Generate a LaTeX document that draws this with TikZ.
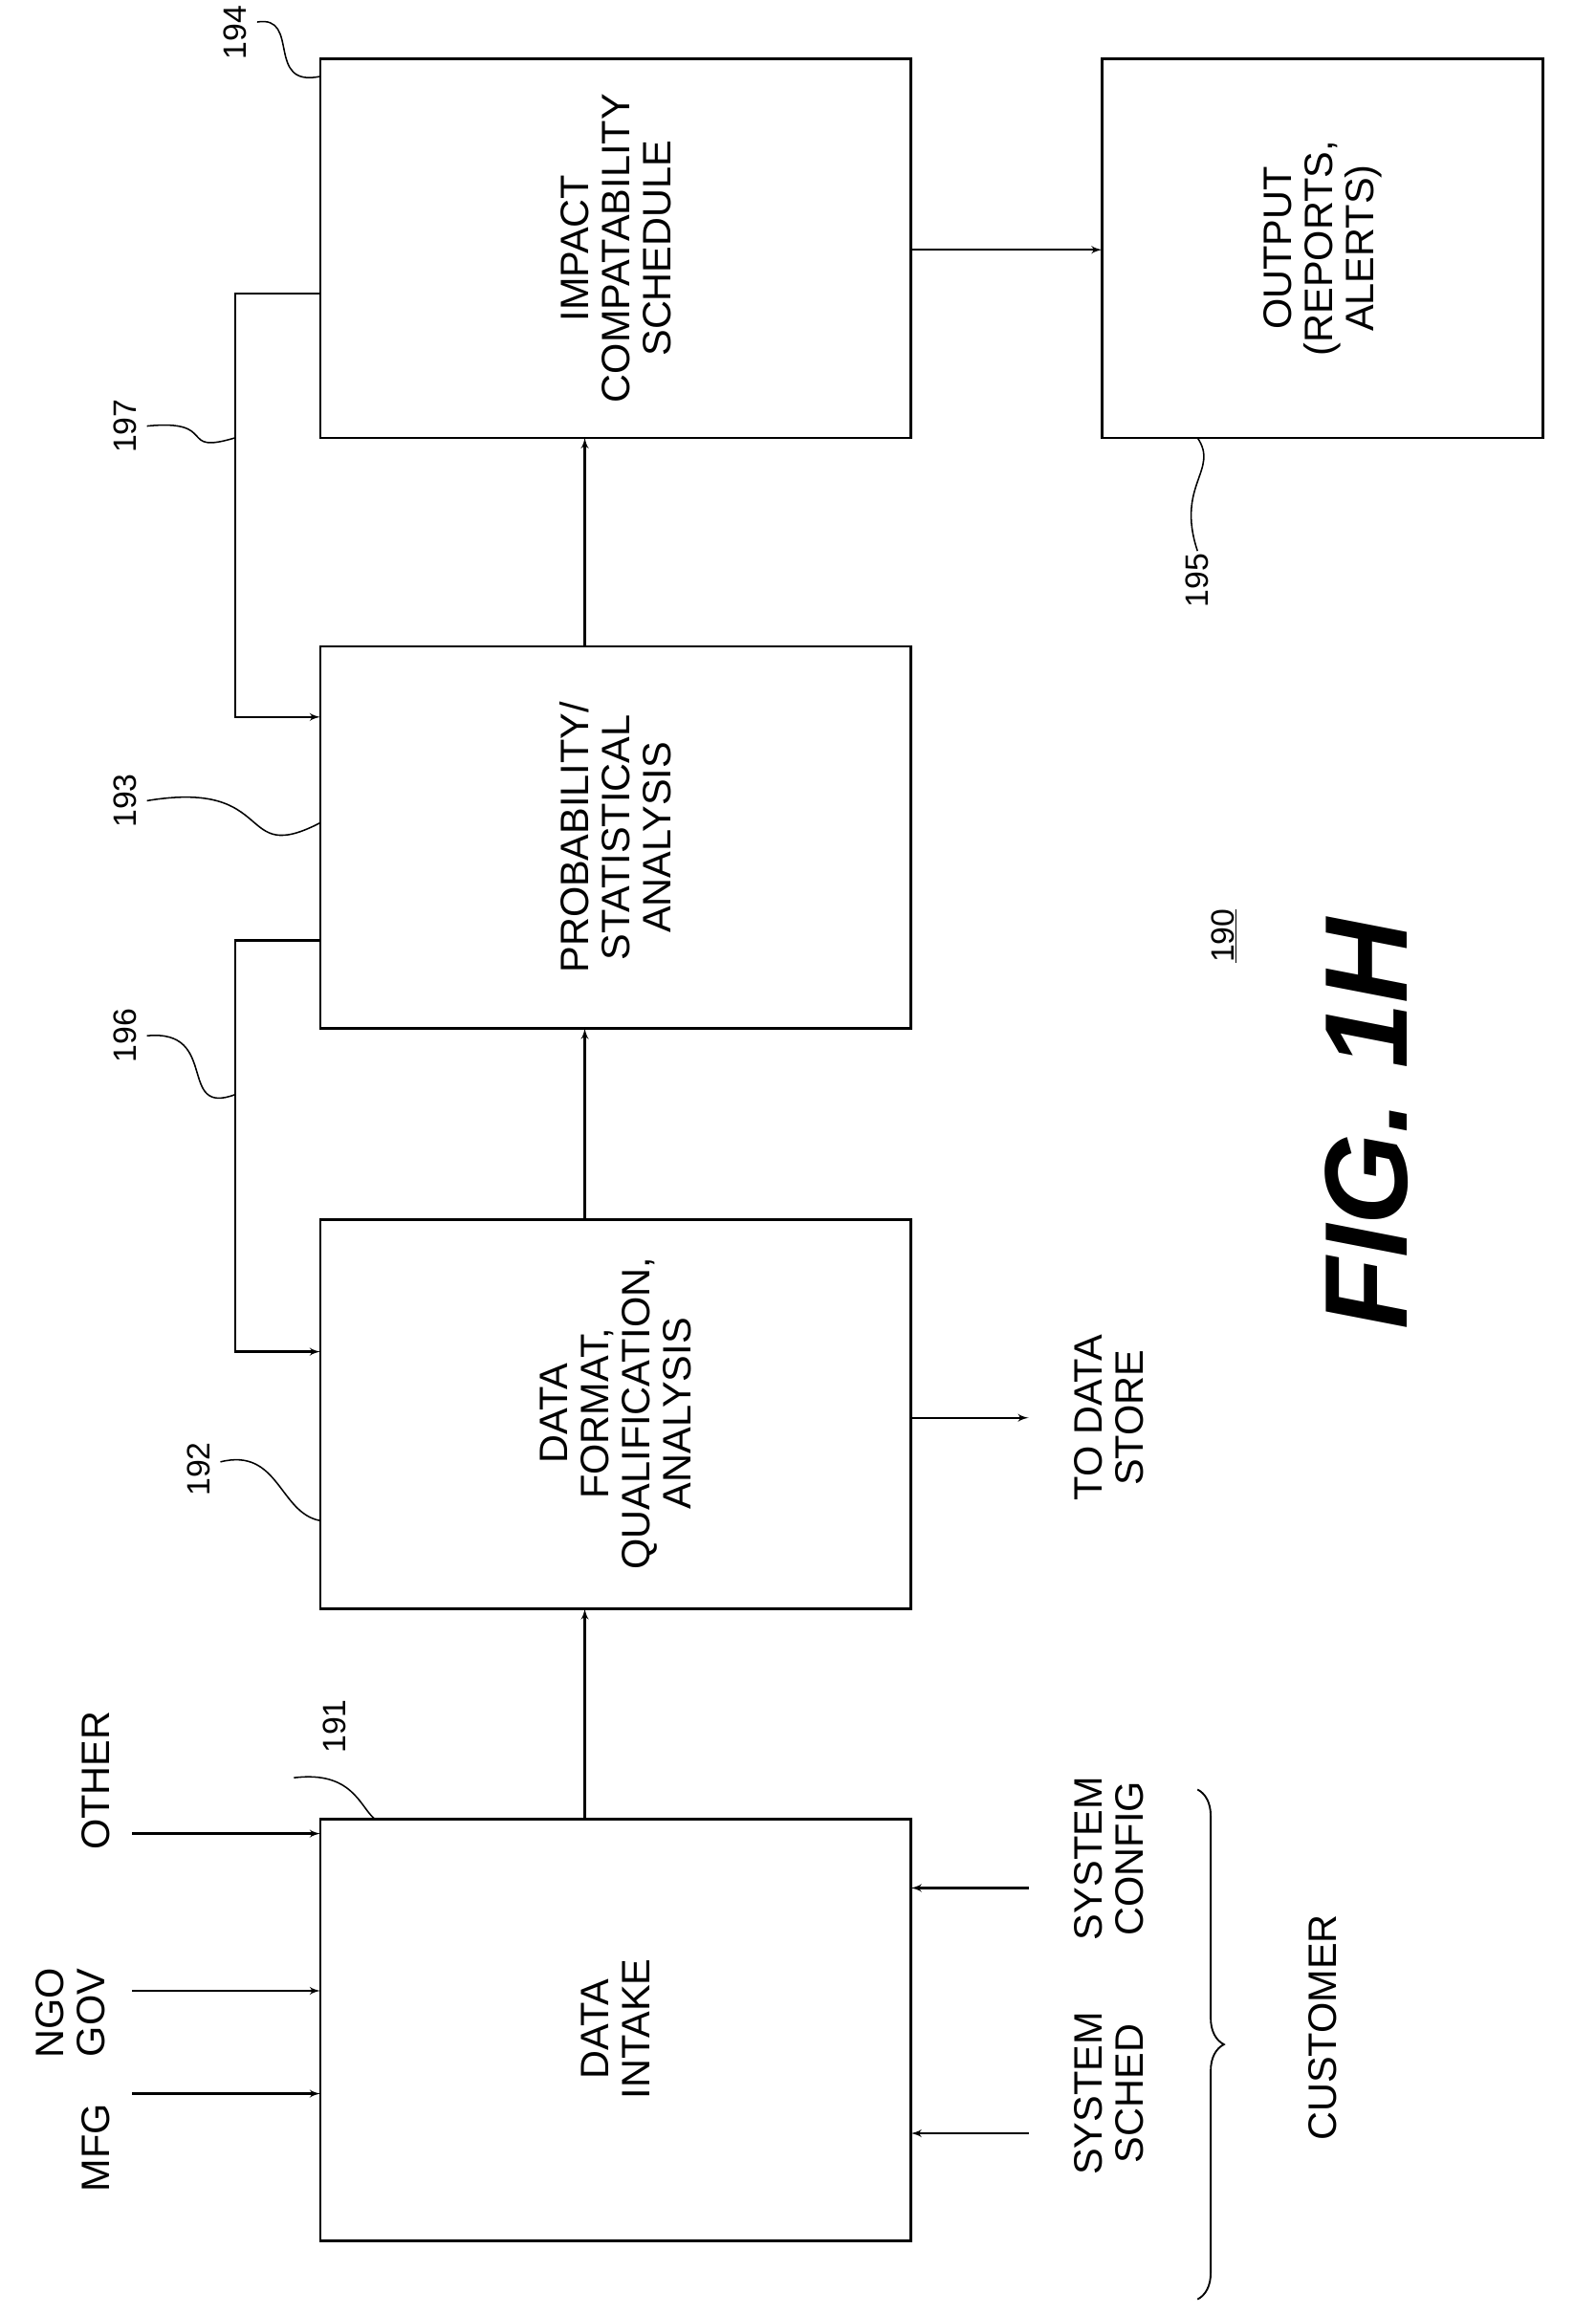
\documentclass[tikz,border=0pt]{standalone}
\usepackage{fontspec}
\setsansfont{Liberation Sans}
\usetikzlibrary{arrows,decorations.pathreplacing}
\tikzstyle{every picture}+=[font=\sffamily]
\tikzstyle{blk}=[draw, line width=1.8pt]
\tikzstyle{lbl}=[rotate=90, align=center, font=\sffamily\fontsize{27}{28}\selectfont]
\tikzstyle{ref}=[rotate=90, font=\sffamily\fontsize{22}{22}\selectfont]
\tikzstyle{flow}=[line width=1.5pt, -latex']
\tikzstyle{lead}=[line width=1pt]
\begin{document}
\begin{tikzpicture}[x=1pt,y=-1pt]
\useasboundingbox (0,0) rectangle (1086,1575);
%% blocks
\draw[blk] (218,1238) rectangle (620,1525);
\draw[blk] (218,830) rectangle (620,1095);
\draw[blk] (218,440) rectangle (620,700);
\draw[blk] (218,40) rectangle (620,298);
\draw[blk] (750,40) rectangle (1050,298);
\node[lbl] (intake) at (419,1381) {DATA\\INTAKE};
\node[lbl] (format) at (419,962) {DATA\\FORMAT,\\QUALIFICATION,\\ANALYSIS};
\node[lbl] (prob) at (419,570) {PROBABILITY/\\STATISTICAL\\ANALYSIS};
\node[lbl] (impact) at (419,169) {IMPACT\\COMPATABILITY\\SCHEDULE};
\node[lbl] (output) at (900,169) {OUTPUT\\(REPORTS,\\ALERTS)};
%% main flow
\coordinate (a1) at (398,1238); \coordinate (a2) at (398,1095);
\coordinate (b1) at (398,830); \coordinate (b2) at (398,700);
\coordinate (c1) at (398,440); \coordinate (c2) at (398,298);
\coordinate (d1) at (620,170); \coordinate (d2) at (750,170);
\draw[flow] (a1) -- (a2);
\draw[flow] (b1) -- (b2);
\draw[flow] (c1) -- (c2);
\draw[flow] (d1) -- (d2);
%% inputs
\node[lbl] (mfg) at (65,1462) {MFG};
\node[lbl] (ngo) at (48,1370) {NGO\\GOV};
\node[lbl] (other) at (65,1212) {OTHER};
\foreach \y in {1425,1355,1248} \draw[flow] (90,\y) -- (218,\y);
\node[lbl] (sched) at (755,1425) {SYSTEM\\SCHED};
\node[lbl] (config) at (755,1265) {SYSTEM\\CONFIG};
\foreach \y in {1452,1285} \draw[flow] (700,\y) -- (620,\y);
\draw[line width=1.2pt, decorate, decoration={brace, amplitude=18pt}]
  (815,1218) -- (815,1565);
\node[lbl] (cust) at (900,1380) {CUSTOMER};
%% data store
\node[lbl] (store) at (755,965) {TO DATA\\STORE};
\draw[flow] (620,965) -- (700,965);
%% feedback
\draw[flow] (218,640) -- (160,640) -- (160,920) -- (218,920);
\draw[flow] (218,200) -- (160,200) -- (160,488) -- (218,488);
%% reference numerals
\node[ref] (n191) at (228,1175) {191};
\draw[lead] (200,1210) .. controls (240,1205) and (245,1230) .. (255,1238);
\node[ref] (n192) at (135,1000) {192};
\draw[lead] (150,995) .. controls (190,985) and (190,1030) .. (218,1035);
\node[ref] (n193) at (85,545) {193};
\draw[lead] (100,545) .. controls (190,530) and (160,590) .. (218,560);
\node[ref] (n194) at (160,22) {194};
\draw[lead] (175,15) .. controls (205,10) and (180,60) .. (218,52);
\node[ref] (n196) at (85,705) {196};
\draw[lead] (100,705) .. controls (150,700) and (120,760) .. (160,745);
\node[ref] (n197) at (85,290) {197};
\draw[lead] (100,290) .. controls (150,285) and (120,310) .. (160,298);
\node[ref] (n195) at (815,395) {195};
\draw[lead] (815,375) .. controls (800,330) and (830,320) .. (815,298);
\node[ref] (n190) at (833,637) {\underline{190}};
\node[rotate=90, font=\sffamily\bfseries\itshape\fontsize{80}{80}\selectfont] (fig) at (930,765) {FIG. 1H};
\end{tikzpicture}
\end{document}
